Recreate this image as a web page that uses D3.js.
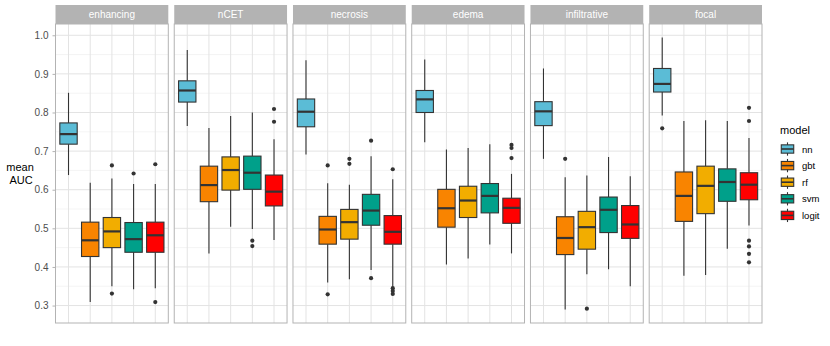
<!DOCTYPE html>
<html>
<head>
<meta charset="utf-8">
<script src="https://cdn.jsdelivr.net/npm/d3@7"></script>
<style>
  body { margin: 0; background: #fff; }
  text { font-family: "Liberation Sans", Arial, sans-serif; }
</style>
</head>
<body>
<svg id="chart" width="830" height="346"></svg>
<script>
const facets = ['enhancing', 'nCET', 'necrosis', 'edema', 'infiltrative', 'focal'];
const models = ['nn', 'gbt', 'rf', 'svm', 'logit'];
const modelColors = ['#5BBCD6', '#F98400', '#F2AD00', '#00A08A', '#FF0000'];
const yTicks = [0.3, 0.4, 0.5, 0.6, 0.7, 0.8, 0.9, 1.0];

// rows = facets, columns = models (nn, gbt, rf, svm, logit)
const whiskerLow = [
    [0.638, 0.309, 0.350, 0.342, 0.345],
    [0.765, 0.435, 0.504, 0.498, 0.470],
    [0.691, 0.360, 0.368, 0.392, 0.349],
    [0.723, 0.406, 0.422, 0.458, 0.435],
    [0.680, 0.290, 0.381, 0.394, 0.350],
    [0.792, 0.377, 0.379, 0.447, 0.507]
];
const q1 = [
    [0.718, 0.427, 0.450, 0.438, 0.438],
    [0.827, 0.569, 0.599, 0.601, 0.558],
    [0.763, 0.459, 0.472, 0.508, 0.459],
    [0.800, 0.503, 0.528, 0.540, 0.513],
    [0.766, 0.432, 0.446, 0.489, 0.474],
    [0.853, 0.518, 0.538, 0.570, 0.574]
];
const median = [
    [0.744, 0.469, 0.492, 0.472, 0.482],
    [0.857, 0.612, 0.651, 0.644, 0.595],
    [0.802, 0.497, 0.516, 0.546, 0.491],
    [0.834, 0.552, 0.572, 0.584, 0.553],
    [0.803, 0.475, 0.503, 0.548, 0.510],
    [0.874, 0.584, 0.610, 0.620, 0.613]
];
const q3 = [
    [0.773, 0.516, 0.528, 0.515, 0.516],
    [0.882, 0.661, 0.685, 0.687, 0.638],
    [0.835, 0.531, 0.549, 0.588, 0.533],
    [0.857, 0.601, 0.609, 0.616, 0.578],
    [0.828, 0.530, 0.544, 0.581, 0.559],
    [0.914, 0.646, 0.661, 0.654, 0.644]
];
const whiskerHigh = [
    [0.851, 0.618, 0.629, 0.615, 0.615],
    [0.962, 0.760, 0.791, 0.800, 0.731],
    [0.935, 0.617, 0.613, 0.687, 0.627],
    [0.937, 0.704, 0.708, 0.718, 0.641],
    [0.914, 0.632, 0.637, 0.685, 0.635],
    [0.994, 0.778, 0.780, 0.778, 0.734]
];
const outliers = [
    [[], [], [0.663, 0.331], [0.642], [0.666, 0.309]],
    [[], [], [], [0.468, 0.454], [0.809, 0.776]],
    [[], [0.663, 0.329], [0.680, 0.667], [0.727, 0.371], [0.653, 0.345, 0.338, 0.330]],
    [[], [], [], [], [0.716, 0.708, 0.682]],
    [[], [0.680], [0.292], [], []],
    [[0.759], [], [], [], [0.812, 0.778, 0.468, 0.453, 0.434, 0.412]]
];

function drawChart() {
    const svg = d3.select('#chart');
    const top = 24, bottom = 323, stripH = 19;

    // y scale from the data, with ggplot's 5% expansion
    const all = [].concat(whiskerLow.flat(), whiskerHigh.flat(), outliers.flat(2));
    const lo = d3.min(all), hi = d3.max(all), pad = (hi - lo) * 0.05;
    const y = d3.scaleLinear().domain([lo - pad, hi + pad]).range([bottom, top]);

    const fx = d3.scaleBand().domain(facets).range([55.5, 762]).paddingInner(0.05);
    const w = fx.bandwidth();
    const x = d3.scaleBand().domain(models).range([0, w]).paddingInner(0).paddingOuter(0.1);
    const boxW = x.bandwidth() * 0.8;

    const minorTicks = d3.range(0.25, 1.05, 0.1).filter(v => v > y.domain()[0] && v < y.domain()[1]);

    facets.forEach((f, fi) => {
        const g = svg.append('g').attr('transform', 'translate(' + fx(f) + ',0)');

        // strip
        g.append('rect').attr('x', 0).attr('y', top - stripH).attr('width', w).attr('height', stripH)
            .attr('fill', '#B3B3B3');
        g.append('text').attr('x', w / 2).attr('y', top - stripH / 2 + 3.5)
            .attr('text-anchor', 'middle').attr('font-size', '10px').attr('fill', '#fff').text(f);

        // grid
        g.selectAll('.minor').data(minorTicks).enter().append('line')
            .attr('x1', 0).attr('x2', w).attr('y1', d => y(d)).attr('y2', d => y(d))
            .attr('stroke', '#EDEDED').attr('stroke-width', 0.6);
        g.selectAll('.major').data(yTicks).enter().append('line')
            .attr('x1', 0).attr('x2', w).attr('y1', d => y(d)).attr('y2', d => y(d))
            .attr('stroke', '#E3E3E3').attr('stroke-width', 1);
        g.selectAll('.vgrid').data(models).enter().append('line')
            .attr('x1', d => x(d) + x.bandwidth() / 2).attr('x2', d => x(d) + x.bandwidth() / 2)
            .attr('y1', top).attr('y2', bottom)
            .attr('stroke', '#E3E3E3').attr('stroke-width', 1);

        // boxes
        models.forEach((m, mi) => {
            const cx = x(m) + x.bandwidth() / 2;
            g.append('line').attr('x1', cx).attr('x2', cx)
                .attr('y1', y(whiskerHigh[fi][mi])).attr('y2', y(q3[fi][mi]))
                .attr('stroke', '#333').attr('stroke-width', 1.1);
            g.append('line').attr('x1', cx).attr('x2', cx)
                .attr('y1', y(q1[fi][mi])).attr('y2', y(whiskerLow[fi][mi]))
                .attr('stroke', '#333').attr('stroke-width', 1.1);
            g.append('rect').attr('x', cx - boxW / 2).attr('width', boxW)
                .attr('y', y(q3[fi][mi])).attr('height', y(q1[fi][mi]) - y(q3[fi][mi]))
                .attr('fill', modelColors[mi]).attr('stroke', '#333').attr('stroke-width', 1.1);
            g.append('line').attr('x1', cx - boxW / 2).attr('x2', cx + boxW / 2)
                .attr('y1', y(median[fi][mi])).attr('y2', y(median[fi][mi]))
                .attr('stroke', '#333').attr('stroke-width', 2.2);
            g.selectAll(null).data(outliers[fi][mi]).enter().append('circle')
                .attr('cx', cx).attr('cy', d => y(d)).attr('r', 2.1)
                .attr('fill', '#333');
        });

        // panel border
        g.append('rect').attr('x', 0).attr('y', top).attr('width', w).attr('height', bottom - top)
            .attr('fill', 'none').attr('stroke', '#B3B3B3').attr('stroke-width', 1);
    });

    // y axis
    const ax = svg.append('g').attr('transform', 'translate(' + fx(facets[0]) + ',0)')
        .call(d3.axisLeft(y).tickValues(yTicks).tickFormat(d3.format('.1f')).tickSize(3).tickPadding(4));
    ax.select('.domain').remove();
    ax.selectAll('.tick line').attr('stroke', '#B3B3B3');
    ax.selectAll('.tick text').attr('fill', '#4D4D4D').attr('font-size', '10px')
        .attr('font-family', '"Liberation Sans", Arial, sans-serif');

    const title = svg.append('text').attr('text-anchor', 'middle').attr('font-size', '11px').attr('fill', '#000');
    title.append('tspan').attr('x', 20).attr('y', 171).text('mean');
    title.append('tspan').attr('x', 21).attr('y', 184).text('AUC');

    // legend
    const leg = svg.append('g').attr('transform', 'translate(780,0)');
    leg.append('text').attr('x', 0).attr('y', 134).attr('font-size', '11px').attr('fill', '#000').text('model');
    const keyH = 16.6;
    models.forEach((m, mi) => {
        const cy = 149 + mi * keyH;
        const cx = 7.5;
        leg.append('line').attr('x1', cx).attr('x2', cx).attr('y1', cy - keyH * 0.4).attr('y2', cy + keyH * 0.4)
            .attr('stroke', '#333').attr('stroke-width', 1.1);
        leg.append('rect').attr('x', cx - keyH * 0.375).attr('y', cy - keyH * 0.25)
            .attr('width', keyH * 0.75).attr('height', keyH * 0.5)
            .attr('fill', modelColors[mi]).attr('stroke', '#333').attr('stroke-width', 1.1);
        leg.append('line').attr('x1', cx - keyH * 0.375).attr('x2', cx + keyH * 0.375).attr('y1', cy).attr('y2', cy)
            .attr('stroke', '#333').attr('stroke-width', 1.6);
        leg.append('text').attr('x', 22).attr('y', cy + 3.5).attr('font-size', '9.5px').attr('fill', '#000').text(m);
    });
}

drawChart();
</script>
</body>
</html>
